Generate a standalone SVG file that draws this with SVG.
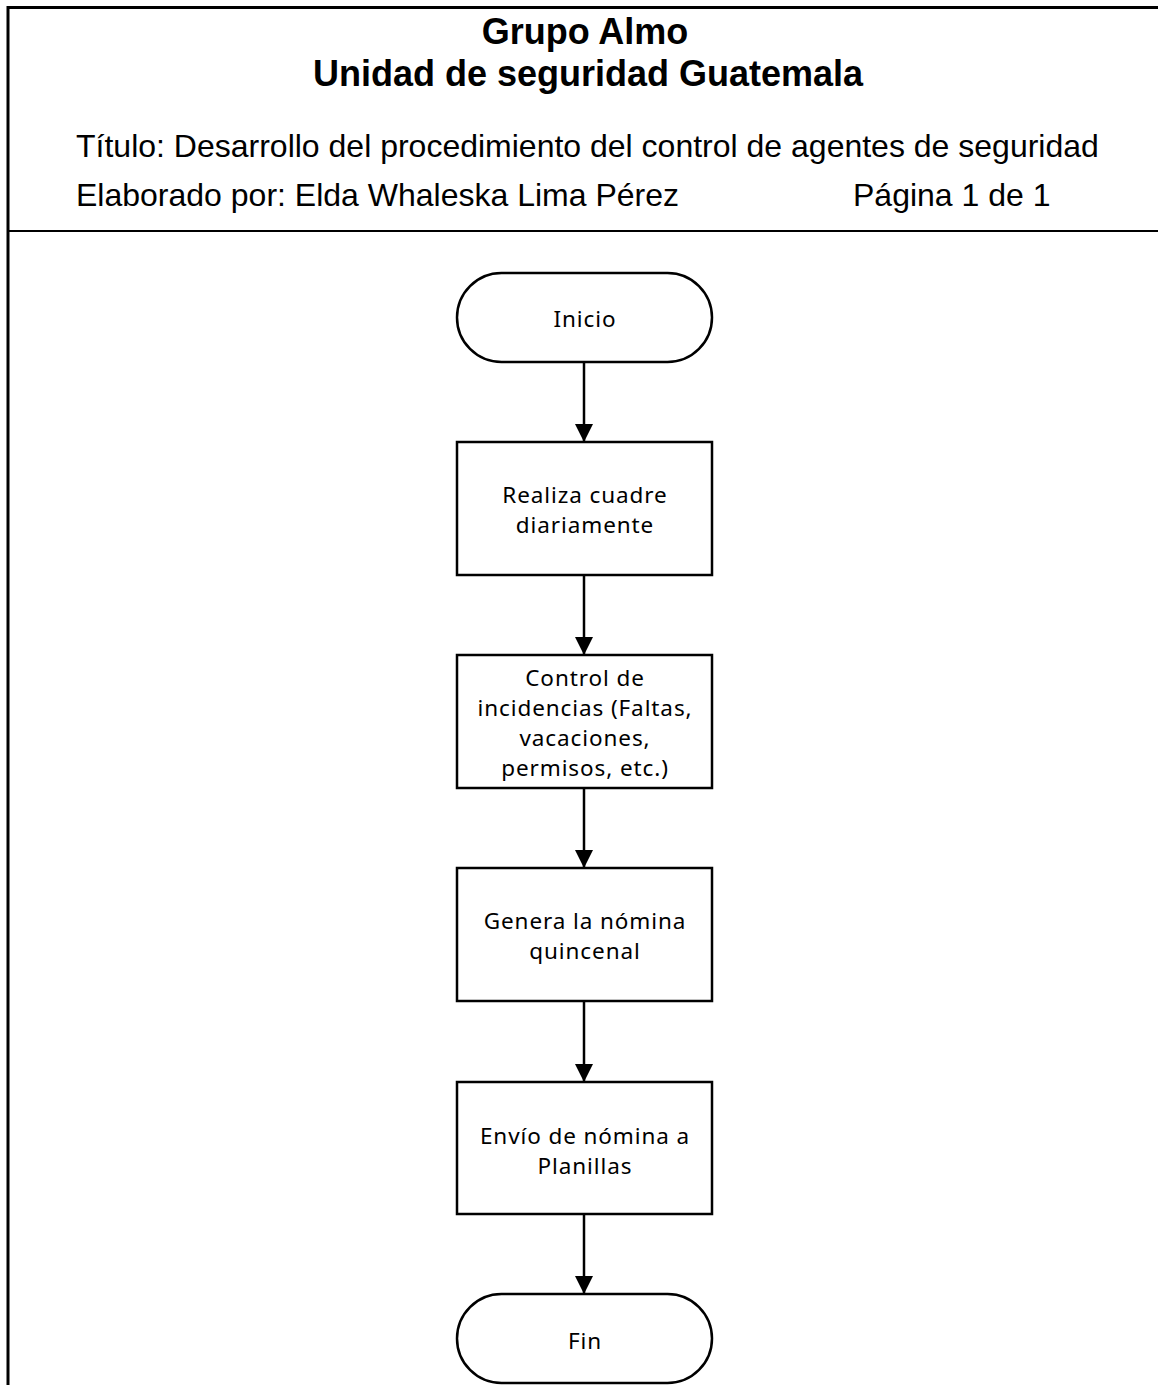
<svg xmlns="http://www.w3.org/2000/svg" width="1158" height="1385" viewBox="0 0 1158 1385">
  <style>
    .frame { fill: none; stroke: #000; stroke-width: 3; }
    .rule { fill: none; stroke: #000; stroke-width: 2; }
    .node { fill: #fff; stroke: #000; stroke-width: 2.5; }
    .edge { fill: none; stroke: #000; stroke-width: 2.5; marker-end: url(#arrow); }
    .hbold { font-family: "Liberation Sans", Arial, sans-serif; font-weight: bold; font-size: 36px; fill: #000; text-anchor: middle; }
    .hreg { font-family: "Liberation Sans", Arial, sans-serif; font-size: 32px; fill: #000; }
    .lbl { font-family: "Noto Sans", "DejaVu Sans", sans-serif; font-size: 22.5px; letter-spacing: 0.9px; fill: #000; text-anchor: middle; }
  </style>
  <defs>
    <marker id="arrow" viewBox="0 0 18 18" refX="18" refY="9" markerWidth="18" markerHeight="18" markerUnits="userSpaceOnUse" orient="auto">
      <path d="M0,0 L18,9 L0,18 Z" fill="#000"/>
    </marker>
  </defs>
  <rect width="1158" height="1385" fill="#fff"/>

  <!-- page frame and header -->
  <g id="header">
    <polyline class="frame" points="8,1385 8,7.5 1158,7.5"/>
    <line class="rule" x1="8" y1="231" x2="1158" y2="231"/>
    <text class="hbold" x="585" y="44">Grupo Almo</text>
    <text class="hbold" x="588" y="86">Unidad de seguridad Guatemala</text>
    <text class="hreg" x="76" y="157">Título: Desarrollo del procedimiento del control de agentes de seguridad</text>
    <text class="hreg" x="76" y="206">Elaborado por: Elda Whaleska Lima Pérez</text>
    <text class="hreg" x="853" y="206">Página 1 de 1</text>
  </g>

  <!-- connectors -->
  <g id="connectors">
    <line class="edge" x1="584" y1="362" x2="584" y2="442"/>
    <line class="edge" x1="584" y1="575" x2="584" y2="655"/>
    <line class="edge" x1="584" y1="788" x2="584" y2="868"/>
    <line class="edge" x1="584" y1="1001" x2="584" y2="1082"/>
    <line class="edge" x1="584" y1="1214" x2="584" y2="1294"/>
  </g>

  <g id="inicio">
    <rect class="node" x="457" y="273" width="255" height="89" rx="44.5" ry="44.5"/>
    <text class="lbl" x="585" y="327">Inicio</text>
  </g>

  <g id="realiza">
    <rect class="node" x="457" y="442" width="255" height="133"/>
    <text class="lbl" x="585" y="503">Realiza cuadre</text>
    <text class="lbl" x="585" y="533">diariamente</text>
  </g>

  <g id="control">
    <rect class="node" x="457" y="655" width="255" height="133"/>
    <text class="lbl" x="585" y="686">Control de</text>
    <text class="lbl" x="585" y="716">incidencias (Faltas,</text>
    <text class="lbl" x="585" y="746">vacaciones,</text>
    <text class="lbl" x="585" y="776">permisos, etc.)</text>
  </g>

  <g id="genera">
    <rect class="node" x="457" y="868" width="255" height="133"/>
    <text class="lbl" x="585" y="929">Genera la nómina</text>
    <text class="lbl" x="585" y="959">quincenal</text>
  </g>

  <g id="envio">
    <rect class="node" x="457" y="1082" width="255" height="132"/>
    <text class="lbl" x="585" y="1144">Envío de nómina a</text>
    <text class="lbl" x="585" y="1174">Planillas</text>
  </g>

  <g id="fin">
    <rect class="node" x="457" y="1294" width="255" height="89" rx="44.5" ry="44.5"/>
    <text class="lbl" x="585" y="1349">Fin</text>
  </g>
</svg>
